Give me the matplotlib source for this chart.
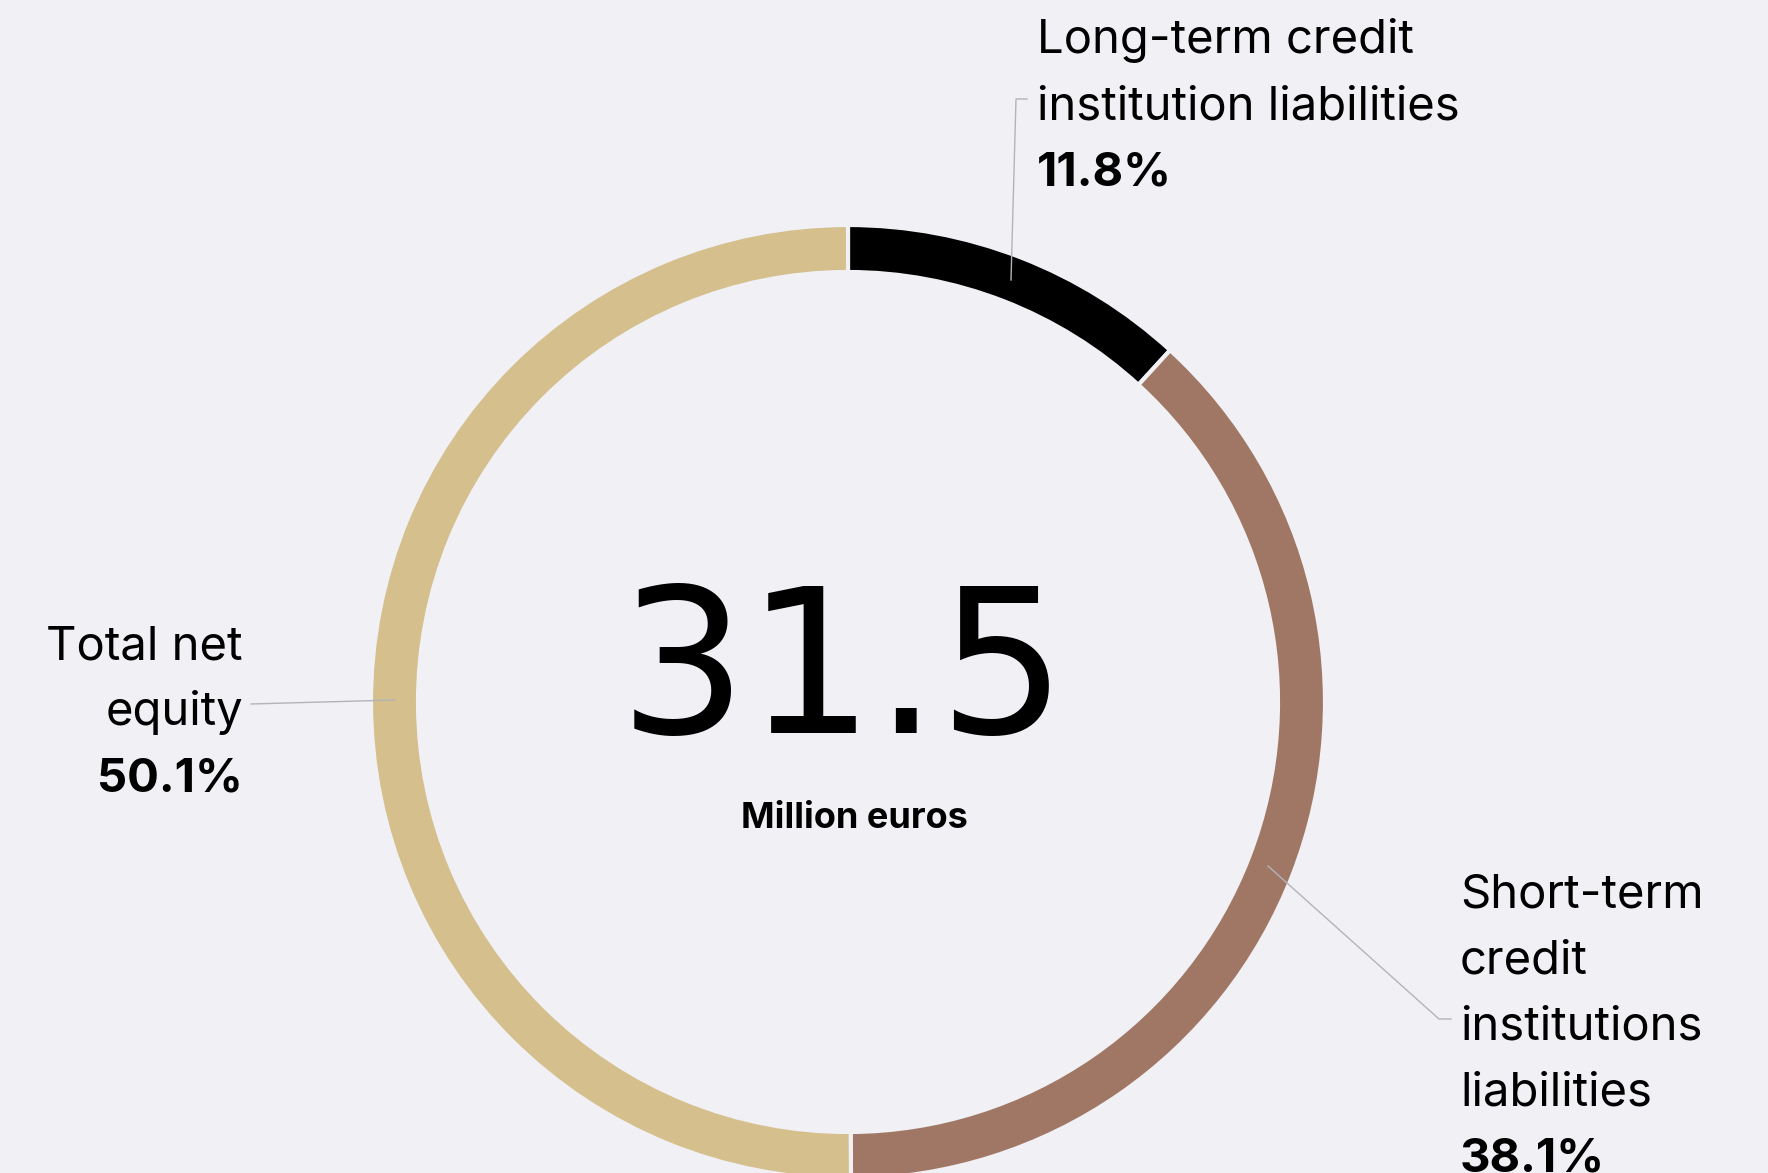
import matplotlib.pyplot as plt

W, H = 1768, 1173
BG = '#f0f0f5'

# composition of funding, share of total
labels = ['Long-term credit\ninstitution liabilities',
          'Short-term\ncredit\ninstitutions\nliabilities',
          'Total net\nequity']
shares = [11.8, 38.1, 50.1]
colors = ['#000000', '#a07764', '#d4bf8d']
total = 31.5
unit = 'Million euros'

fig = plt.figure(figsize=(W / 100, H / 100), dpi=100, facecolor=BG)
ax = fig.add_axes([0, 0, 1, 1])
ax.set_facecolor(BG)

# ring, pixel-sized so text can be placed in the same coordinates
cx, cy = 848, H - 702
ax.pie(shares, colors=colors, radius=477, center=(cx, cy), startangle=90,
       counterclock=False,
       wedgeprops=dict(width=47, edgecolor=BG, linewidth=3))
ax.set_xlim(0, W)
ax.set_ylim(0, H)
ax.set_aspect('equal')
ax.axis('off')

font = 'Inter'
fs = 34
lc = '#b4b4b8'

def label(x, y0, text, pct, ha):
    lines = text.split('\n')
    for i, ln in enumerate(lines):
        ax.text(x, H - (y0 + 66 * i), ln, ha=ha, va='baseline',
                fontsize=fs, family=font, color='black')
    ax.text(x, H - (y0 + 66 * len(lines)), f'{pct}%', ha=ha, va='baseline',
            fontsize=fs, family=font, fontweight='bold', color='black')

label(1037, 53, labels[0], shares[0], 'left')
label(1460, 908, labels[1], shares[1], 'left')
label(243, 659, labels[2], shares[2], 'right')

# leader lines
ax.plot([1011, 1016, 1027], [H - 280, H - 99, H - 99], color=lc, lw=1)
ax.plot([1268, 1439, 1451], [H - 866, H - 1019, H - 1019], color=lc, lw=1)
ax.plot([251, 395], [H - 704, H - 700], color=lc, lw=1)

# total in the middle
ax.text(843, H - 733, f'{total}', ha='center', va='baseline',
        fontsize=145, family='DejaVu Sans', color='black')
ax.text(854, H - 828, unit, ha='center', va='baseline',
        fontsize=26, family=font, fontweight='bold', color='black')

fig.savefig('out.png', dpi=100, facecolor=BG)
